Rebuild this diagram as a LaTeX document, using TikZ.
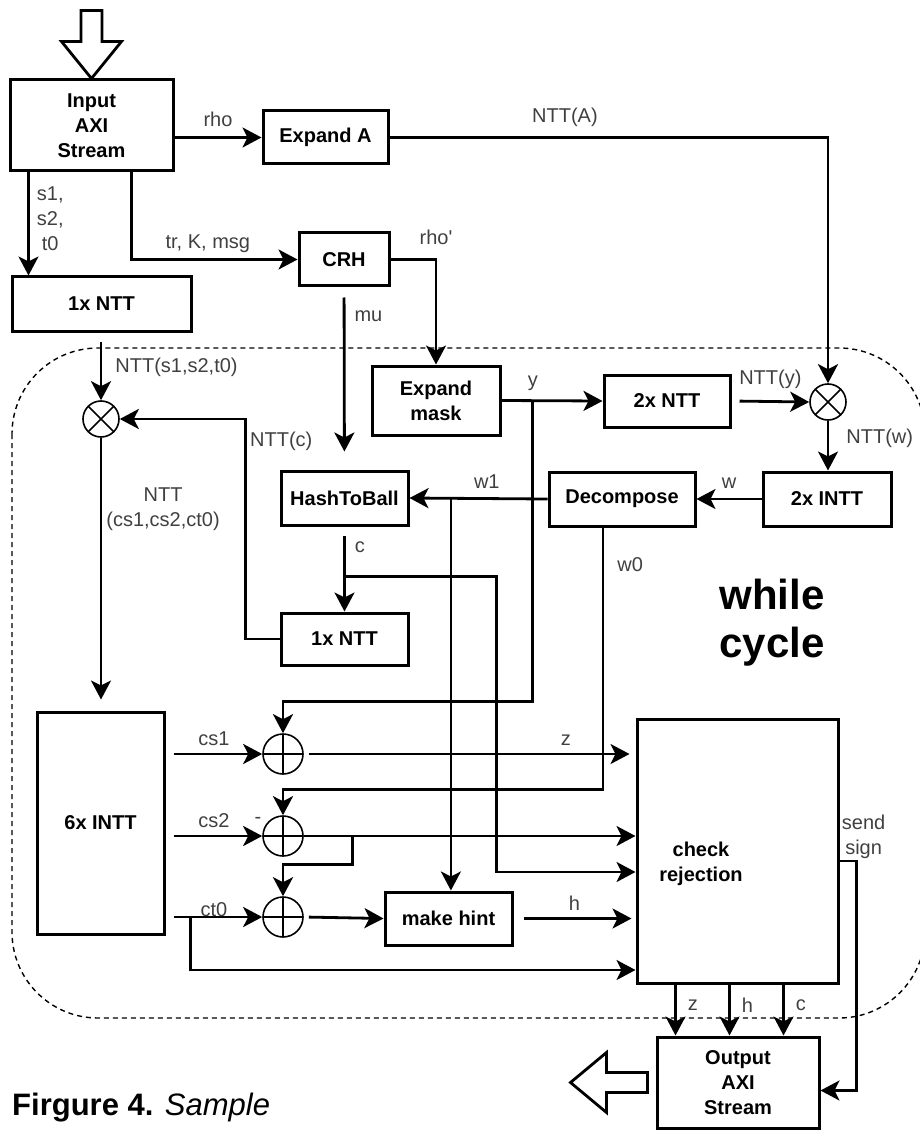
\documentclass[tikz,border=0pt]{standalone}
\usepackage{fontspec}
\setmainfont{Liberation Sans}
\usetikzlibrary{arrows.meta,positioning}
\newcommand*{\boxfont}{\bfseries\fontsize{20}{25}\selectfont}
\newcommand*{\lblfont}{\fontsize{20}{25}\selectfont}

\begin{document}
\begin{tikzpicture}
[
    x = 1pt, y = -1pt,
    block/.style={draw, line width = 3pt, font = \boxfont, align = center, inner sep = 2pt},
    prodnode/.style={circle, draw, line width = 1.6pt, minimum size = 36pt, inner sep = 0pt,
        path picture={\draw[line width = 1.6pt] (path picture bounding box.south west) -- (path picture bounding box.north east)
            (path picture bounding box.north west) -- (path picture bounding box.south east);}},
    sumnode/.style={circle, draw, line width = 1.6pt, minimum size = 40pt, inner sep = 0pt,
        path picture={\draw[line width = 1.6pt] (path picture bounding box.north) -- (path picture bounding box.south)
            (path picture bounding box.west) -- (path picture bounding box.east);}},
    lbl/.style={font = \lblfont, text = black!75, inner sep = 3pt},
    arrow/.style={draw, line width = 2.8pt, -{Stealth[length = 19pt, width = 20pt, inset = 5pt]}},
    hollow/.style={draw, line width = 2.8pt, line join = miter},
    cycleline/.style={draw, line width = 1.4pt, dash pattern = on 5pt off 4pt, rounded corners = 86pt},
]
\useasboundingbox (0,0) rectangle (919,1131);

% while cycle region
\draw[cycleline] (12,348) rectangle (925,1018);
\node[font = \bfseries\fontsize{42}{48}\selectfont, align = center] (wc) at (772,623) {while\\cycle};

% blocks outside the cycle
\node[block, minimum width = 163pt, minimum height = 91pt] (in) at (91.5,125.5) {Input\\AXI\\Stream};
\node[block, minimum width = 125pt, minimum height = 53pt] (expA) at (325.5,137.5) {Expand A};
\node[block, minimum width = 179pt, minimum height = 54pt] (nttS) at (101.5,304) {1x NTT};
\node[block, minimum width = 90pt, minimum height = 53pt] (crh) at (344,259.5) {CRH};
\node[block, minimum width = 162pt, minimum height = 91pt] (out) at (738,1082.5) {Output\\AXI\\Stream};

% blocks inside the cycle
\node[block, minimum width = 128pt, minimum height = 69pt] (mask) at (436,400.5) {Expand\\mask};
\node[block, minimum width = 126pt, minimum height = 52pt] (nttY) at (667,401) {2x NTT};
\node[prodnode] (mulA) at (828,402) {};
\node[block, minimum width = 128pt, minimum height = 54pt] (inttW) at (827,499) {2x INTT};
\node[block, minimum width = 146pt, minimum height = 54pt] (dec) at (622,499) {Decompose};
\node[block, minimum width = 127pt, minimum height = 54pt] (h2b) at (344.5,498) {HashToBall};
\node[block, minimum width = 127pt, minimum height = 52pt] (nttC) at (344.5,639) {1x NTT};
\node[prodnode] (mulS) at (101,419) {};
\node[block, minimum width = 127pt, minimum height = 222pt] (intt6) at (100.5,823) {6x INTT};
\node[sumnode] (add1) at (283,754) {};
\node[sumnode] (add2) at (283,836) {};
\node[sumnode] (add3) at (283,917) {};
\node[block, minimum width = 127pt, minimum height = 53pt] (hint) at (448.5,918.5) {make hint};
\node[block, minimum width = 201pt, minimum height = 264pt] (chk) at (737.5,851) {};
\node[font = \boxfont, align = center] (chkText) at (701,864) {check\\rejection};
\node[lbl] (minus) at ([xshift = -25pt, yshift = 16pt]add2.center) {-};

% hollow stream arrows
\draw[hollow] (in.north) -- ++(-30,-37) -- ++(19.5,0) -- ++(0,-31) -- ++(21,0) -- ++(0,31) -- ++(19.5,0) -- cycle;
\draw[hollow] ([xshift = -8pt]out.west) -- ++(0,-10) -- ++(-41,0) -- ++(0,-20) -- ++(-36,30) -- ++(36,30) -- ++(0,-20) -- ++(41,0) -- cycle;

% connectors
\coordinate (sTop) at ([xshift = 20pt]in.south west);
\coordinate (kTop) at ([xshift = 123pt]in.south west);
\draw[arrow] (expA.west -| in.east) -- node[lbl, above = 6pt] {rho} (expA.west);
\draw[arrow] (expA.east) -| node[lbl, above = 6pt, pos = 0.2] {NTT(A)} (mulA.north);
\draw[arrow] (sTop) -- node[lbl, right = 4pt, align = center, pos = 0.45] {s1,\\s2,\\t0} (sTop |- nttS.north);
\draw[arrow] (kTop) |- node[lbl, above = 2pt, pos = 0.73] {tr, K, msg} (crh.west);
\draw[arrow] (crh.east) -| node[lbl, above = 10pt] {rho\textquotesingle} (mask.north);
\draw[arrow, shorten <= 10pt, shorten >= 18pt] (crh) -- node[lbl, right = 6pt, pos = 0.16] {mu} (h2b);
\draw[arrow] (mask.east) -- coordinate[pos = 0.31] (yj) node[lbl, above = 6pt, pos = 0.31] {y} (nttY.west);
\draw[arrow, shorten <= 8pt] (nttY.east) -- node[lbl, above = 8pt] {NTT(y)} (mulA.west);
\draw[arrow] (mulA.south) -- node[lbl, right = 14pt, pos = 0.35] {NTT(w)} (mulA.south |- inttW.north);
\draw[arrow] (inttW.west) -- node[lbl, above = 6pt] {w} (dec.east);
\draw[arrow] (dec.west) -- coordinate[pos = 0.7] (w1j) node[lbl, above = 6pt, pos = 0.44] {w1} (h2b.east);
\draw[arrow] (w1j) -- (w1j |- hint.north);
\draw[arrow, shorten <= 9pt] (h2b) -- coordinate[pos = 0.59] (cj) node[lbl, right = 6pt, pos = 0.24] {c} (nttC);
\draw[arrow] (cj) -- ++(152,0) |- ([yshift = -21pt]chk.west);
\draw[arrow] (nttC.west) -| node[lbl, right, pos = 0.95] {NTT(c)} ([xshift = 126pt]mulS.east) -- (mulS.east);
\draw[arrow, shorten <= 9pt] (mulS.north |- nttS.south) -- node[lbl, right = 10pt, pos = 0.52] {NTT(s1,s2,t0)} (mulS.north);
\draw[arrow, shorten >= 11pt] (mulS.south) -- node[lbl, right = 1pt, align = center, pos = 0.26] {NTT\\(cs1,cs2,ct0)} (mulS.south |- intt6.north);

% sums and check rejection inputs
\draw[arrow] (yj) |- ([yshift = 32pt]add1.north) -- (add1.north);
\draw[arrow, shorten <= 8pt] (add1.west -| intt6.east) -- node[lbl, above = 4pt] {cs1} (add1.west);
\draw[arrow, shorten <= 5pt, shorten >= 6pt] (add1.east) -- node[lbl, above = 4pt, pos = 0.79] {z} (add1.east -| chk.west);
\draw[arrow] ([xshift = -19pt]dec.south) |- node[lbl, right = 10pt, pos = 0.07] {w0} ([yshift = 26pt]add2.north) -- (add2.north);
\draw[arrow, shorten <= 8pt] (add2.west -| intt6.east) -- node[lbl, above = 4pt] {cs2} (add2.west);
\draw[arrow] (add2.east) -- coordinate[pos = 0.147] (a2j) (add2.east -| chk.west);
\draw[arrow] (a2j) |- ([yshift = 32pt]add3.north) -- (add3.north);
\draw[arrow, shorten <= 8pt] (add3.west -| intt6.east) -- coordinate[pos = 0.26] (ctj) node[lbl, above = -4pt] {ct0} (add3.west);
\draw[arrow] (ctj) |- ([yshift = -119pt]chk.west);
\draw[arrow, shorten <= 5pt] (add3.east) -- (hint.west);
\draw[arrow, shorten <= 10pt, shorten >= 4pt] (hint.east) -- node[lbl, above = 4pt] {h} (hint.east -| chk.west);

% outputs
\foreach \dx/\sig in {-62/z, -8/h, 46/c} {
    \coordinate (o\sig) at ([xshift = \dx pt]chk.south);
    \draw[arrow] (o\sig) -- node[lbl, right = 8pt, pos = 0.4] {\sig} (o\sig |- out.north);
}
\draw[arrow] ([yshift = -10pt]chk.east) node[lbl, align = center, above right, inner sep = 1pt] {send\\sign} -- ++(17,0) |- ([yshift = -8pt]out.east);

\node[anchor = base west, inner sep = 0pt, font = \fontsize{31}{36}\selectfont] (cap) at (12,1115) {\textbf{Firgure 4.} \textit{Sample}};
\end{tikzpicture}
\end{document}
